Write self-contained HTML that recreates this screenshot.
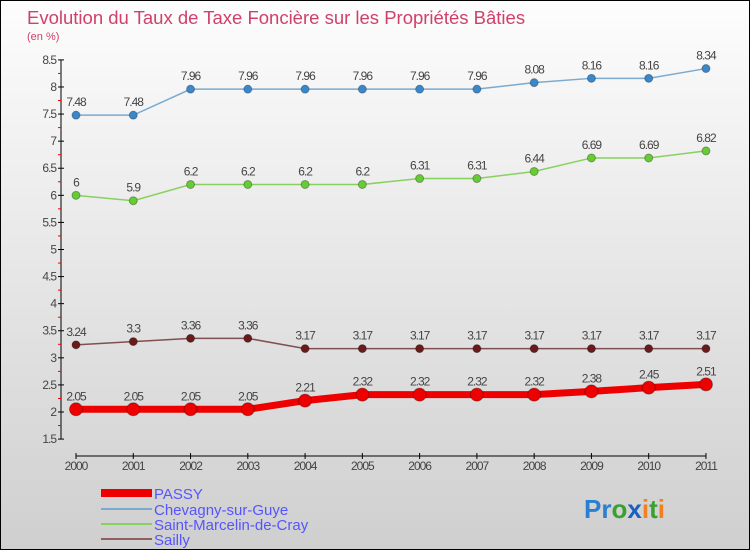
<!DOCTYPE html>
<html><head><meta charset="utf-8"><style>
body{margin:0}
#c{position:relative;width:748px;height:548px;border:1px solid #000;background:linear-gradient(#fdfdfd,#cfcfcf);font-family:"Liberation Sans",sans-serif;overflow:hidden}
</style></head><body>
<div id="c">
<svg id="s" width="748" height="548" style="position:absolute;left:0;top:0" font-family="Liberation Sans, sans-serif">
<text x="26" y="23" font-size="18.5" fill="#d0406a">Evolution du Taux de Taxe Foncière sur les Propriétés Bâties</text>
<text x="26" y="39" font-size="11" fill="#d0406a">(en %)</text>
<g id="ax"></g><g id="series"></g>
<g>
<rect x="100" y="488" width="51" height="8" fill="#e00"/>
<text x="153" y="498" font-size="15" fill="#5555ff">PASSY</text>
<line x1="100" y1="508" x2="151" y2="508" stroke="#7aaad0" stroke-width="2"/>
<text x="153" y="514" font-size="15" fill="#5555ff">Chevagny-sur-Guye</text>
<line x1="100" y1="523" x2="151" y2="523" stroke="#88d060" stroke-width="2"/>
<text x="153" y="529" font-size="15" fill="#5555ff">Saint-Marcelin-de-Cray</text>
<line x1="100" y1="538" x2="151" y2="538" stroke="#906060" stroke-width="2"/>
<text x="153" y="544" font-size="15" fill="#5555ff">Sailly</text>
</g>
<text x="583" y="517" font-size="26" font-weight="bold"><tspan fill="#2a7fd0">Pr</tspan><tspan fill="#3aa030">o</tspan><tspan fill="#1a60c0">x</tspan><tspan fill="#f08020">i</tspan><tspan fill="#3aa030">t</tspan><tspan fill="#f08020">i</tspan></text>
</svg>
</div>
<script>
const years=["2000","2001","2002","2003","2004","2005","2006","2007","2008","2009","2010","2011"];
const passy=[2.05,2.05,2.05,2.05,2.21,2.32,2.32,2.32,2.32,2.38,2.45,2.51];
const chevagny=[7.48,7.48,7.96,7.96,7.96,7.96,7.96,7.96,8.08,8.16,8.16,8.34];
const marcelin=[6,5.9,6.2,6.2,6.2,6.2,6.31,6.31,6.44,6.69,6.69,6.82];
const sailly=[3.24,3.3,3.36,3.36,3.17,3.17,3.17,3.17,3.17,3.17,3.17,3.17];
const yTicks=[1.5,2,2.5,3,3.5,4,4.5,5,5.5,6,6.5,7,7.5,8,8.5];
const NS="http://www.w3.org/2000/svg";
const X=i=>75+i*57.27;
const Y=v=>411-(v-2)*54.17;
function mk(t,a,p){const e=document.createElementNS(NS,t);for(const k in a)e.setAttribute(k,a[k]);p.appendChild(e);return e;}
const ax=document.getElementById('ax');
mk('line',{x1:60,y1:Y(8.5),x2:60,y2:Y(1.5),stroke:'#000'},ax);
yTicks.forEach(v=>{
 const t=mk('line',{x1:57,x2:63,y1:Y(v),y2:Y(v),stroke:'#000'},ax);
 
 
 const r=mk('line',{x1:57,x2:60,y1:Y(v+0.25),y2:Y(v+0.25),stroke:'#e00'},ax);
 if(v==8.5)r.remove();
 const l=mk('text',{x:55,y:Y(v)+4,'font-size':12,'text-anchor':'end',fill:'#444','letter-spacing':'-1'},ax);
 l.textContent=v;
 
 
});
mk('line',{x1:X(0),x2:X(11),y1:455,y2:455,stroke:'#000'},ax);
years.forEach((y,i)=>{
 mk('line',{x1:X(i),x2:X(i),y1:452,y2:458,stroke:'#000'},ax);
 const l=mk('text',{x:X(i),y:469,'font-size':12,'text-anchor':'middle',fill:'#444','letter-spacing':'-1'},ax);
 l.textContent=y;
 
 
});
const sg=document.getElementById('series');
function series(d,name,col,dot,w,r){
 const g=mk('g',{},sg);
 
 
 mk('polyline',{points:d.map((v,i)=>X(i)+','+Y(v)).join(' '),fill:'none',stroke:col,'stroke-width':w},g);
 d.forEach((v,i)=>{
  const c=mk('circle',{cx:X(i),cy:Y(v),r:r,fill:dot,stroke:'rgba(0,0,0,0.3)'},g);
  
  
  const t=mk('text',{x:X(i),y:Y(v)-9,'font-size':12,'text-anchor':'middle',fill:'#444','letter-spacing':'-1'},g);
  t.textContent=v;
  
  
 });
}
series(chevagny,'chevagny','#7aaad0','#3a88cc',1.5,4);
series(marcelin,'saint-marcelin','#88d060','#66cc33',1.5,4);
series(sailly,'sailly','#805050','#6a1a1a',1.5,4);
series(passy,'passy','#ee0000','#ee0000',7,6.5);
</script>
</body></html>
